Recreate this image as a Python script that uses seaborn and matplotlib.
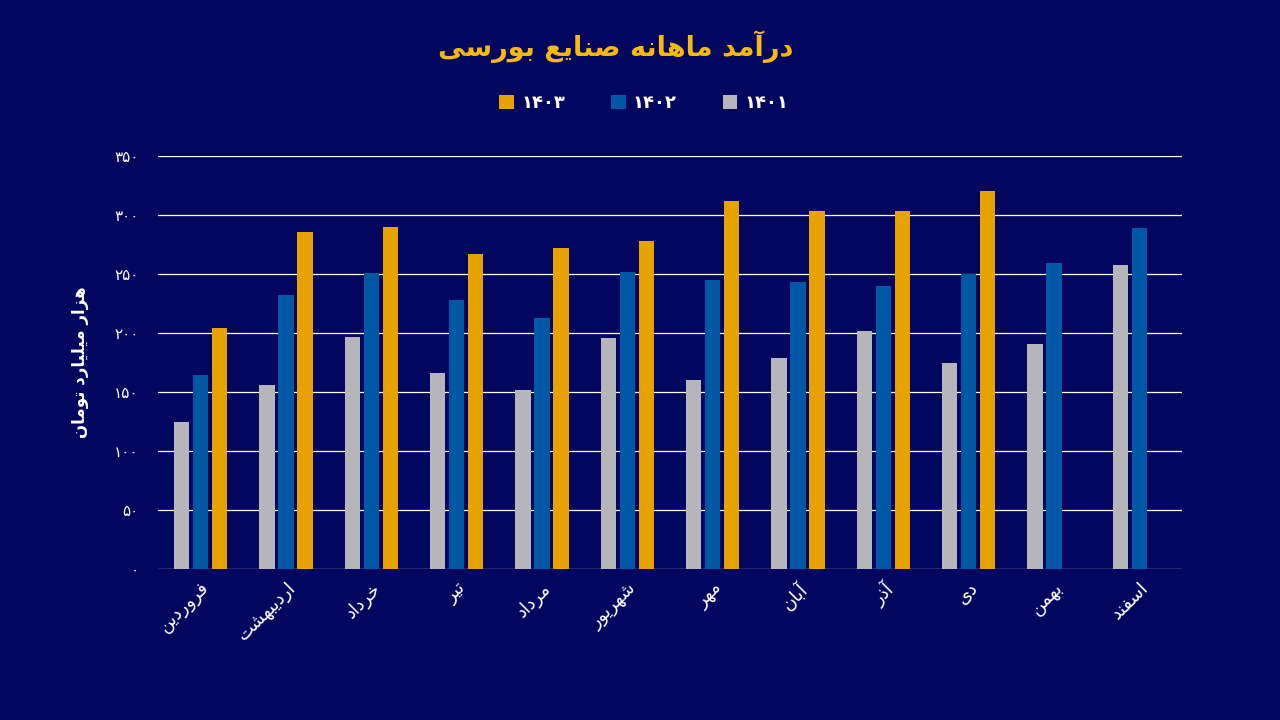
import matplotlib
matplotlib.use("Agg")
import matplotlib.pyplot as plt
import seaborn as sns
import pandas as pd
import numpy as np
from matplotlib.patches import Patch

# ---------------- data ----------------
months = ["فروردین", "اردیبهشت", "خرداد", "تیر", "مرداد", "شهریور",
          "مهر", "آبان", "آذر", "دی", "بهمن", "اسفند"]
years = ["1401", "1402", "1403"]
year_labels = ["۱۴۰۱", "۱۴۰۲", "۱۴۰۳"]
values_1401 = [125, 156, 197, 166, 152, 196, 160, 179, 202, 175, 191, 258]
values_1402 = [164, 232, 251, 228, 213, 252, 245, 243, 240, 250, 259, 289]
values_1403 = [204, 286, 290, 267, 272, 278, 312, 303, 303, 320, None, None]
yticks = [0, 50, 100, 150, 200, 250, 300, 350]
ytick_labels = ["۰", "۵۰", "۱۰۰", "۱۵۰", "۲۰۰", "۲۵۰", "۳۰۰", "۳۵۰"]
title = "درآمد ماهانه صنایع بورسی"
ylabel = "هزار میلیارد تومان"

# ---------------- arabic shaping (presentation forms) ----------------
FORMS = {
    'ا': ('\uFE8D', '\uFE8E', None, None),
    'آ': ('\uFE81', '\uFE82', None, None),
    'ب': ('\uFE8F', '\uFE90', '\uFE91', '\uFE92'),
    'ت': ('\uFE95', '\uFE96', '\uFE97', '\uFE98'),
    'خ': ('\uFEA5', '\uFEA6', '\uFEA7', '\uFEA8'),
    'د': ('\uFEA9', '\uFEAA', None, None),
    'ذ': ('\uFEAB', '\uFEAC', None, None),
    'ر': ('\uFEAD', '\uFEAE', None, None),
    'ز': ('\uFEAF', '\uFEB0', None, None),
    'س': ('\uFEB1', '\uFEB2', '\uFEB3', '\uFEB4'),
    'ش': ('\uFEB5', '\uFEB6', '\uFEB7', '\uFEB8'),
    'ص': ('\uFEB9', '\uFEBA', '\uFEBB', '\uFEBC'),
    'ع': ('\uFEC9', '\uFECA', '\uFECB', '\uFECC'),
    'ف': ('\uFED1', '\uFED2', '\uFED3', '\uFED4'),
    'ل': ('\uFEDD', '\uFEDE', '\uFEDF', '\uFEE0'),
    'م': ('\uFEE1', '\uFEE2', '\uFEE3', '\uFEE4'),
    'ن': ('\uFEE5', '\uFEE6', '\uFEE7', '\uFEE8'),
    'ه': ('\uFEE9', '\uFEEA', '\uFEEB', '\uFEEC'),
    'و': ('\uFEED', '\uFEEE', None, None),
    'ی': ('\uFEEF', '\uFEF0', '\uFEF3', '\uFEF4'),
}


def shape(text):
    chars = list(text)
    out = []
    for i, c in enumerate(chars):
        if c not in FORMS:
            out.append(c)
            continue
        prev = chars[i - 1] if i > 0 else None
        nxt = chars[i + 1] if i < len(chars) - 1 else None
        join_prev = prev in FORMS and FORMS[prev][2] is not None
        join_next = nxt in FORMS and FORMS[c][2] is not None
        iso, fin, ini, med = FORMS[c]
        if join_prev and join_next:
            g = med
        elif join_prev:
            g = fin
        elif join_next:
            g = ini
        else:
            g = iso
        out.append(g)
    return "".join(out)[::-1]


# ---------------- style ----------------
BG = "#02065E"
colors = {"1401": "#B6B6BA", "1402": "#0057A3", "1403": "#E8A200"}
sns.set_theme(style="white")
plt.rcParams["font.family"] = ["DejaVu Sans"]

rows = []
for m, a, b, c in zip(months, values_1401, values_1402, values_1403):
    rows.append((m, "1401", a))
    rows.append((m, "1402", b))
    if c is not None:
        rows.append((m, "1403", c))
df = pd.DataFrame(rows, columns=["month", "year", "value"])

fig = plt.figure(figsize=(12.8, 7.2), dpi=100, facecolor=BG)
ax = fig.add_axes([0.1234, 0.2097, 0.80, 0.5736])
ax.set_facecolor(BG)

sns.barplot(data=df, x="month", y="value", hue="year", order=months,
            hue_order=years, palette=colors, width=0.67, gap=0.2,
            saturation=1, ax=ax, legend=False, errorbar=None, zorder=3,
            linewidth=0, edgecolor="none")

ax.set_ylim(0, 350)
ax.set_xlim(-0.5, len(months) - 0.5)
ax.set_yticks(yticks)
ax.set_yticklabels(ytick_labels, color="white", fontsize=11)
ax.yaxis.grid(True, color="white", linewidth=0.9, zorder=0)
ax.set_axisbelow(True)
ax.tick_params(axis="y", length=0, pad=14)
ax.tick_params(axis="x", length=0, pad=7)
ax.set_xticks(range(len(months)))
ax.set_xticklabels([shape(m) for m in months], rotation=45, ha="right",
                   rotation_mode="anchor", color="white", fontsize=13)
for s in ax.spines.values():
    s.set_visible(False)
ax.set_xlabel("")
ax.set_ylabel(shape(ylabel), color="white", fontsize=12, fontweight="bold",
              labelpad=18)

fig.text(0.481, 0.935, shape(title), color="#F6B90E", fontsize=19.5,
         fontweight="bold", ha="center", va="center")

handles = [Patch(facecolor=colors[y], edgecolor="none") for y in ["1403", "1402", "1401"]]
labels = ["۱۴۰۳", "۱۴۰۲", "۱۴۰۱"]
leg = fig.legend(handles, labels, loc="center", bbox_to_anchor=(0.503, 0.857),
                 ncol=3, frameon=False, columnspacing=2.55, handlelength=0.8,
                 handleheight=0.8, handletextpad=0.4, fontsize=13)
for t in leg.get_texts():
    t.set_color("white")
    t.set_fontweight("bold")

fig.savefig("out.png", dpi=100, facecolor=BG)
